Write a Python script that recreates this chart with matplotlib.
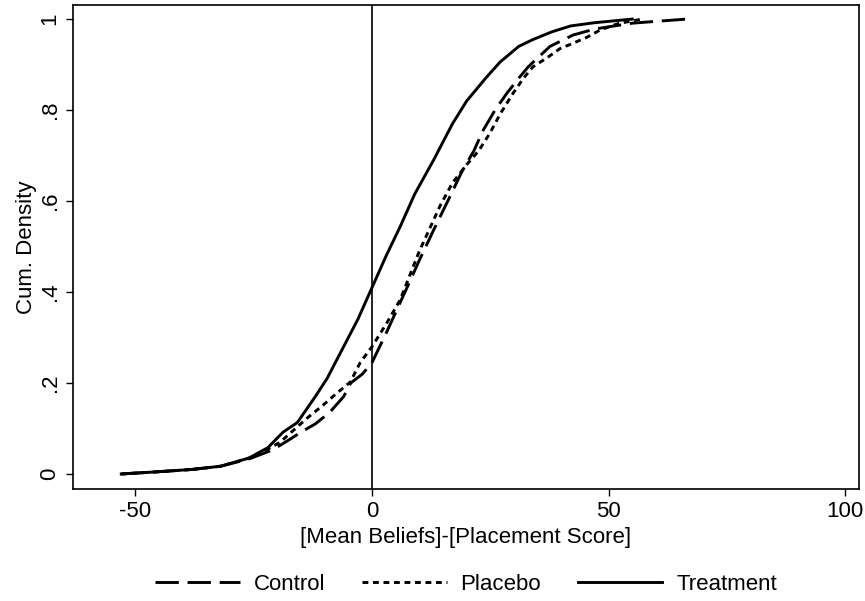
import numpy as np
import matplotlib
matplotlib.use("Agg")
import matplotlib.pyplot as plt

plt.rcParams['font.family'] = ['Liberation Sans', 'DejaVu Sans']

# cumulative distributions
control_x = [-53, -45, -38, -32, -26, -23, -21, -18, -15, -12, -9, -6, -4.5, -2, 0, 3, 7.4, 10, 13,
             16, 19, 21.5, 23.5, 26, 28.5, 31, 33, 37.6, 42.5, 47, 50, 55, 60, 66.5]
control_y = [0, 0.005, 0.01, 0.017, 0.033, 0.045, 0.053, 0.072, 0.092, 0.11, 0.135, 0.17, 0.2, 0.22,
             0.245, 0.31, 0.41, 0.47, 0.536, 0.60, 0.665, 0.71, 0.756, 0.8, 0.837, 0.87, 0.895, 0.94,
             0.965, 0.978, 0.983, 0.991, 0.995, 1.0]

placebo_x = [-53, -45, -38, -32, -26, -22, -19.4, -16.5, -13.7, -10.5, -7.4, -4.6, -2.5, 0, 3, 5.9,
             10, 14.4, 17, 20, 22.5, 24.9, 27, 29.8, 32, 34, 37, 39.7, 42.5, 45.4, 48.2, 52, 57]
placebo_y = [0, 0.005, 0.01, 0.017, 0.035, 0.055, 0.07, 0.097, 0.123, 0.15, 0.178, 0.202, 0.245,
             0.28, 0.33, 0.382, 0.49, 0.59, 0.64, 0.68, 0.71, 0.749, 0.79, 0.837, 0.87, 0.895, 0.915,
             0.935, 0.947, 0.96, 0.976, 0.99, 1.0]

treat_x = [-53, -45, -38, -32, -26, -22, -18.8, -15.8, -14, -12, -9.5, -6, -3, 0, 3, 6, 9, 13, 17,
           20, 24, 27, 31, 34, 38, 42, 47, 51, 55]
treat_y = [0, 0.005, 0.01, 0.017, 0.035, 0.058, 0.092, 0.113, 0.14, 0.17, 0.21, 0.28, 0.34, 0.41,
           0.48, 0.545, 0.615, 0.69, 0.77, 0.82, 0.87, 0.905, 0.94, 0.955, 0.972, 0.985, 0.992,
           0.996, 1.0]

xticks = [-50, 0, 50, 100]
yticks = [0, 0.2, 0.4, 0.6, 0.8, 1.0]
ytick_labels = ["0", ".2", ".4", ".6", ".8", "1"]

fs = 16
fig = plt.figure(figsize=(8.65, 6.01), dpi=100)
ax = fig.add_axes([0.0844, 0.1864, 0.9086, 0.8053])

lw = 2.1
ax.plot(control_x, control_y, color="black", lw=lw, dashes=(8, 3), label="Control")
ax.plot(placebo_x, placebo_y, color="black", lw=lw, dashes=(2, 1.6), label="Placebo")
ax.plot(treat_x, treat_y, color="black", lw=lw, label="Treatment")
ax.axvline(0, color="black", lw=1.2)

ax.set_xlim(-63.2, 102.9)
ax.set_ylim(-0.033, 1.031)
ax.set_xticks(xticks)
ax.set_xticklabels([str(t) for t in xticks])
ax.set_yticks(yticks)
ax.set_yticklabels(ytick_labels, rotation=90, va="center")
ax.tick_params(direction="out", length=5, width=1, labelsize=fs, colors="black", pad=4)
for s in ax.spines.values():
    s.set_linewidth(1.2)

ax.set_xlabel("[Mean Beliefs]-[Placement Score]", fontsize=fs, labelpad=3)
ax.set_ylabel("Cum. Density", fontsize=fs, labelpad=2)

# legend centred under the plot area, not the whole figure
fig.legend(loc="center", bbox_to_anchor=(0.539, 0.027), ncol=3, frameon=False, fontsize=fs,
           handlelength=3.8, handletextpad=0.63, columnspacing=1.66)

fig.savefig("out.png", dpi=100)
